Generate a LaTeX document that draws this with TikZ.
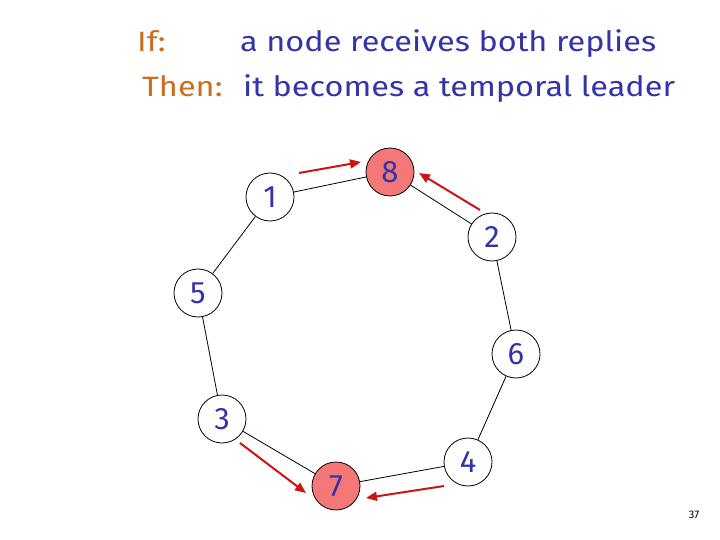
\documentclass[tikz,border=0pt]{standalone}
\usepackage{fontspec}
\setmainfont{Fira Sans}
\newfontfamily\titlefont[FakeStretch=1.16]{Fira Sans}
\usetikzlibrary{arrows.meta}
\definecolor{txtblue}{RGB}{51,51,170}
\definecolor{txtorange}{RGB}{200,110,30}
\definecolor{leadfill}{RGB}{245,120,120}
\definecolor{arrred}{RGB}{205,20,20}
\tikzset{
  ringnode/.style={circle,draw=black,line width=0.8pt,minimum size=48pt,inner sep=0pt,
    text=txtblue,font=\fontsize{31}{31}\selectfont},
  leader/.style={ringnode,fill=leadfill},
  ringedge/.style={draw=black,line width=0.8pt},
  reply/.style={draw=arrred,line width=2pt,-{Triangle[length=11pt,width=9pt]}},
  lbl/.style={anchor=base west,inner sep=0pt,font=\titlefont\fontsize{28}{28}\selectfont}
}
\begin{document}
\begin{tikzpicture}[x=1pt,y=-1pt]
\useasboundingbox (0,0) rectangle (720,540);
\node[lbl,text=txtorange] (if) at (137,52) {If:};
\node[lbl,text=txtblue] (ift) at (240,52) {a node receives both replies};
\node[lbl,text=txtorange] (then) at (142,97) {Then:};
\node[lbl,text=txtblue] (thent) at (243,97) {it becomes a temporal leader};

\node[ringnode] (n1) at (270,197) {1};
\node[leader] (n8) at (390,172) {8};
\node[ringnode] (n2) at (492,237) {2};
\node[ringnode] (n5) at (198,293) {5};
\node[ringnode] (n6) at (516,354) {6};
\node[ringnode] (n3) at (222,419) {3};
\node[leader] (n7) at (336,486) {7};
\node[ringnode] (n4) at (468,462) {4};

\draw[ringedge] (n1) -- (n8);
\draw[ringedge] (n8) -- (n2);
\draw[ringedge] (n2) -- (n6);
\draw[ringedge] (n6) -- (n4);
\draw[ringedge] (n4) -- (n7);
\draw[ringedge] (n7) -- (n3);
\draw[ringedge] (n3) -- (n5);
\draw[ringedge] (n5) -- (n1);

\coordinate (a1s) at (299,173); \coordinate (a1e) at (361,162);
\coordinate (a2s) at (480,210); \coordinate (a2e) at (419,173);
\coordinate (a3s) at (240,443); \coordinate (a3e) at (306,493);
\coordinate (a4s) at (444,486); \coordinate (a4e) at (366,498);
\draw[reply] (a1s) -- (a1e);
\draw[reply] (a2s) -- (a2e);
\draw[reply] (a3s) -- (a3e);
\draw[reply] (a4s) -- (a4e);

\node[font=\fontsize{11}{11}\selectfont,inner sep=0pt] (pg) at (694,515) {37};
\end{tikzpicture}
\end{document}
